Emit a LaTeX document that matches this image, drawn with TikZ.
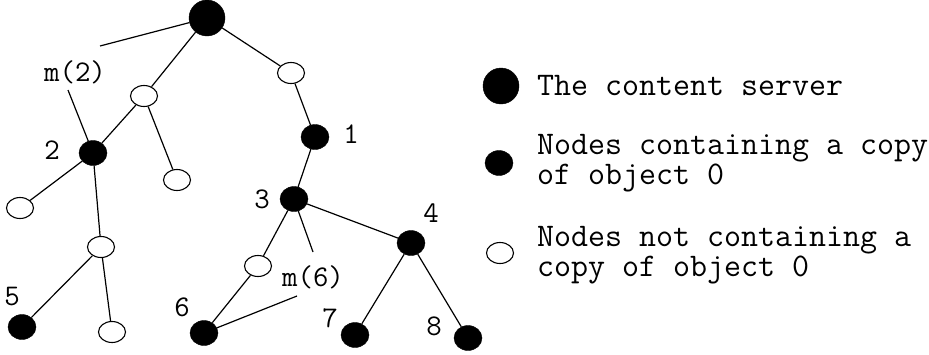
\documentclass[tikz,border=0pt]{standalone}
\usepackage{fontspec}
\usepackage{tikz}
\usetikzlibrary{shapes.geometric,positioning}

\begin{document}
\begin{tikzpicture}[
  x=1pt,y=-1pt,
  server/.style={circle,fill=black,draw=black,minimum size=36pt,inner sep=0pt},
  copynode/.style={ellipse,fill=black,draw=black,minimum width=28pt,minimum height=25pt,inner sep=0pt},
  emptynode/.style={ellipse,fill=white,draw=black,line width=1.1pt,minimum width=27pt,minimum height=21pt,inner sep=0pt},
  lbl/.style={font=\ttfamily\fontsize{30}{31}\selectfont,inner sep=0pt},
  legtext/.style={font=\ttfamily\fontsize{33}{30}\selectfont,inner sep=0pt,anchor=west,align=left},
  edge/.style={line width=1.2pt,draw=black}
]
\useasboundingbox (0,0) rectangle (929,354);
% tree
\node[server] (root) at (207,18) {};
\node[emptynode] (a) at (144,96) {};
\node[emptynode] (r) at (291,73) {};
\node[copynode] (n2) at (93,153) {};
\node[emptynode] (b) at (177,180) {};
\node[copynode] (n1) at (315,137) {};
\node[copynode] (n3) at (294,199) {};
\node[emptynode] (c) at (20,208) {};
\node[emptynode] (d) at (101,247) {};
\node[copynode] (n5) at (22,327) {};
\node[emptynode] (e) at (112,332) {};
\node[emptynode] (f) at (258,266) {};
\node[copynode] (n4) at (411,243) {};
\node[copynode] (n6) at (204,333) {};
\node[copynode] (n7) at (355,335) {};
\node[copynode] (n8) at (468,338) {};
% labels
\node[lbl] (l1) at (351,134) {1};
\node[lbl] (l2) at (52,150) {2};
\node[lbl] (l3) at (262,199) {3};
\node[lbl] (l4) at (431,213) {4};
\node[lbl] (l5) at (12,297) {5};
\node[lbl] (l6) at (182,307) {6};
\node[lbl] (l7) at (330,318) {7};
\node[lbl] (l8) at (434,326) {8};
\node[lbl] (m2) at (75,72) {m(2)};
\node[lbl] (m6) at (313,277) {m(6)};
\coordinate (m2top) at (100,46);
\coordinate (m2bot) at (68,90);
\coordinate (m6top) at (313,252);
\coordinate (m6bot) at (297,296);
% edges
\draw[edge] (root) -- (a);
\draw[edge] (root) -- (r);
\draw[edge] (a) -- (n2);
\draw[edge] (a) -- (b);
\draw[edge] (r) -- (n1);
\draw[edge] (n1) -- (n3);
\draw[edge] (n2) -- (c);
\draw[edge] (n2) -- (d);
\draw[edge] (d) -- (n5);
\draw[edge] (d) -- (e);
\draw[edge] (n3) -- (f);
\draw[edge] (n3) -- (n4);
\draw[edge] (f) -- (n6);
\draw[edge] (n4) -- (n7);
\draw[edge] (n4) -- (n8);
\draw[edge] (m2top) -- (root);
\draw[edge] (m2bot) -- (n2);
\draw[edge] (m6top) -- (n3);
\draw[edge] (m6bot) -- (n6);
% legend
\node[server] (kserver) at (501,86) {};
\node[legtext] (tserver) at (537,86) {The content server};
\node[copynode] (kcopy) at (499,163) {};
\node[legtext] (tcopy) at (537,163) {Nodes containing a copy\\of object 0};
\node[emptynode] (kempty) at (500,253) {};
\node[legtext] (tempty) at (537,255) {Nodes not containing a\\copy of object 0};
\end{tikzpicture}
\end{document}
